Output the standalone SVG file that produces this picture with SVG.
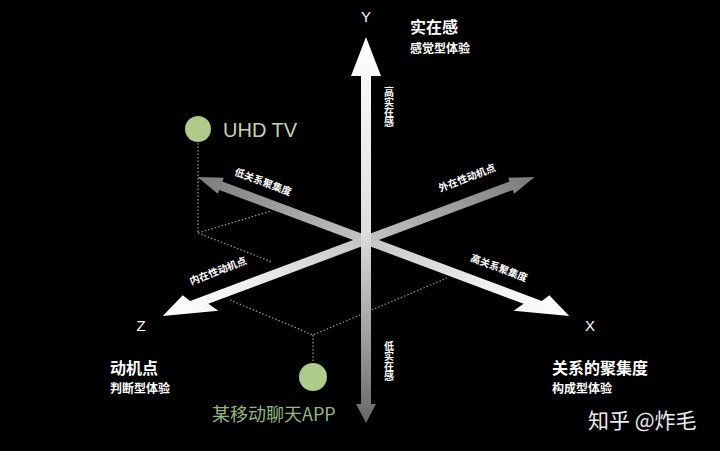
<svg xmlns="http://www.w3.org/2000/svg" width="720" height="451" viewBox="0 0 720 451">
<defs>
<style>
.cjk{font-family:"Noto Sans CJK SC","Noto Sans",sans-serif;fill:#fff}
.b{font-weight:bold}
.lat{font-family:"Liberation Sans","DejaVu Sans",sans-serif;fill:#fff}
.dot{fill:none;stroke:#9a9a9a;stroke-width:1.2;stroke-dasharray:1.5 2}
.axl{font-size:10px;font-weight:bold}
.vl{font-size:10px;font-weight:bold;writing-mode:vertical-rl;text-orientation:upright}
</style>
<linearGradient id="gd" gradientUnits="userSpaceOnUse" x1="-180" y1="0" x2="217" y2="0">
<stop offset="0" stop-color="#7a7a7a"/>
<stop offset="0.45" stop-color="#c4c4c4"/>
<stop offset="0.8" stop-color="#f2f2f2"/>
<stop offset="1" stop-color="#ffffff"/>
</linearGradient>
<linearGradient id="gy" gradientUnits="userSpaceOnUse" x1="0" y1="37" x2="0" y2="423">
<stop offset="0" stop-color="#ffffff"/>
<stop offset="0.5" stop-color="#dedede"/>
<stop offset="0.8" stop-color="#999999"/>
<stop offset="1" stop-color="#666666"/>
</linearGradient>
<path id="diag" d="M217 0 L191 -12.5 L186 -4.5 L-155 -4.5 L-155 -8.5 L-180 0 L-155 8.5 L-155 4.5 L170 4.5 L163 14.5 Z"/>
</defs>
<rect width="720" height="451" fill="#000"/>

<g id="connectors">
<path class="dot" d="M198 143 V233 M198 233 L271 211 M198 233 L272 262"/>
<path class="dot" d="M230 300 L313 335 L447 278 M313 335 V361"/>
</g>

<g id="axis-x">
<use href="#diag" fill="url(#gd)" transform="translate(366,240) rotate(20.5)"/>
</g>
<g id="axis-z">
<use href="#diag" fill="url(#gd)" transform="translate(366,240) scale(-1,1) rotate(20.5)"/>
</g>
<g id="axis-y">
<path d="M366 37 L381 76 L371 76 L371 404 L376 404 L366 423 L356 404 L361 404 L361 76 L351 76 Z" fill="url(#gy)"/>
</g>

<g id="axis-labels">
<text class="lat" x="366" y="22" font-size="15" text-anchor="middle">Y</text>
<text class="lat" x="141" y="331" font-size="15" text-anchor="middle">Z</text>
<text class="lat" x="590" y="331" font-size="15" text-anchor="middle">X</text>
<text class="cjk vl" x="389" y="87">高实在感</text>
<text class="cjk vl" x="389" y="341">低实在感</text>
<text class="cjk axl" text-anchor="middle" transform="translate(263,182) rotate(20.5)" y="3.5">低关系聚集度</text>
<text class="cjk axl" text-anchor="middle" transform="translate(467,178) rotate(-21)" y="3.5">外在性动机点</text>
<text class="cjk axl" text-anchor="middle" transform="translate(499,268) rotate(20.5)" y="3.5">高关系聚集度</text>
<text class="cjk axl" text-anchor="middle" transform="translate(218,271) rotate(-21)" y="3.5">内在性动机点</text>
</g>

<g id="label-y">
<text class="cjk b" x="410" y="33" font-size="16">实在感</text>
<text class="cjk b" x="410" y="53" font-size="12">感觉型体验</text>
</g>
<g id="label-z">
<text class="cjk b" x="110" y="374" font-size="16">动机点</text>
<text class="cjk b" x="110" y="393" font-size="12">判断型体验</text>
</g>
<g id="label-x">
<text class="cjk b" x="552" y="374" font-size="16">关系的聚集度</text>
<text class="cjk b" x="552" y="393" font-size="12">构成型体验</text>
</g>

<g id="node-uhd">
<circle cx="198" cy="129" r="13" fill="#aecb8c"/>
<text class="lat" x="223" y="137" font-size="20" style="fill:#c5d3ae">UHD TV</text>
</g>
<g id="node-app">
<circle cx="313" cy="377" r="14" fill="#aecb8c"/>
<text class="cjk" x="212" y="421" font-size="18" style="fill:#94b878">某移动聊天APP</text>
</g>

<g id="watermark">
<text class="cjk" x="588" y="428" font-size="21" style="fill:#ececec">知乎 @炸毛</text>
</g>
</svg>
